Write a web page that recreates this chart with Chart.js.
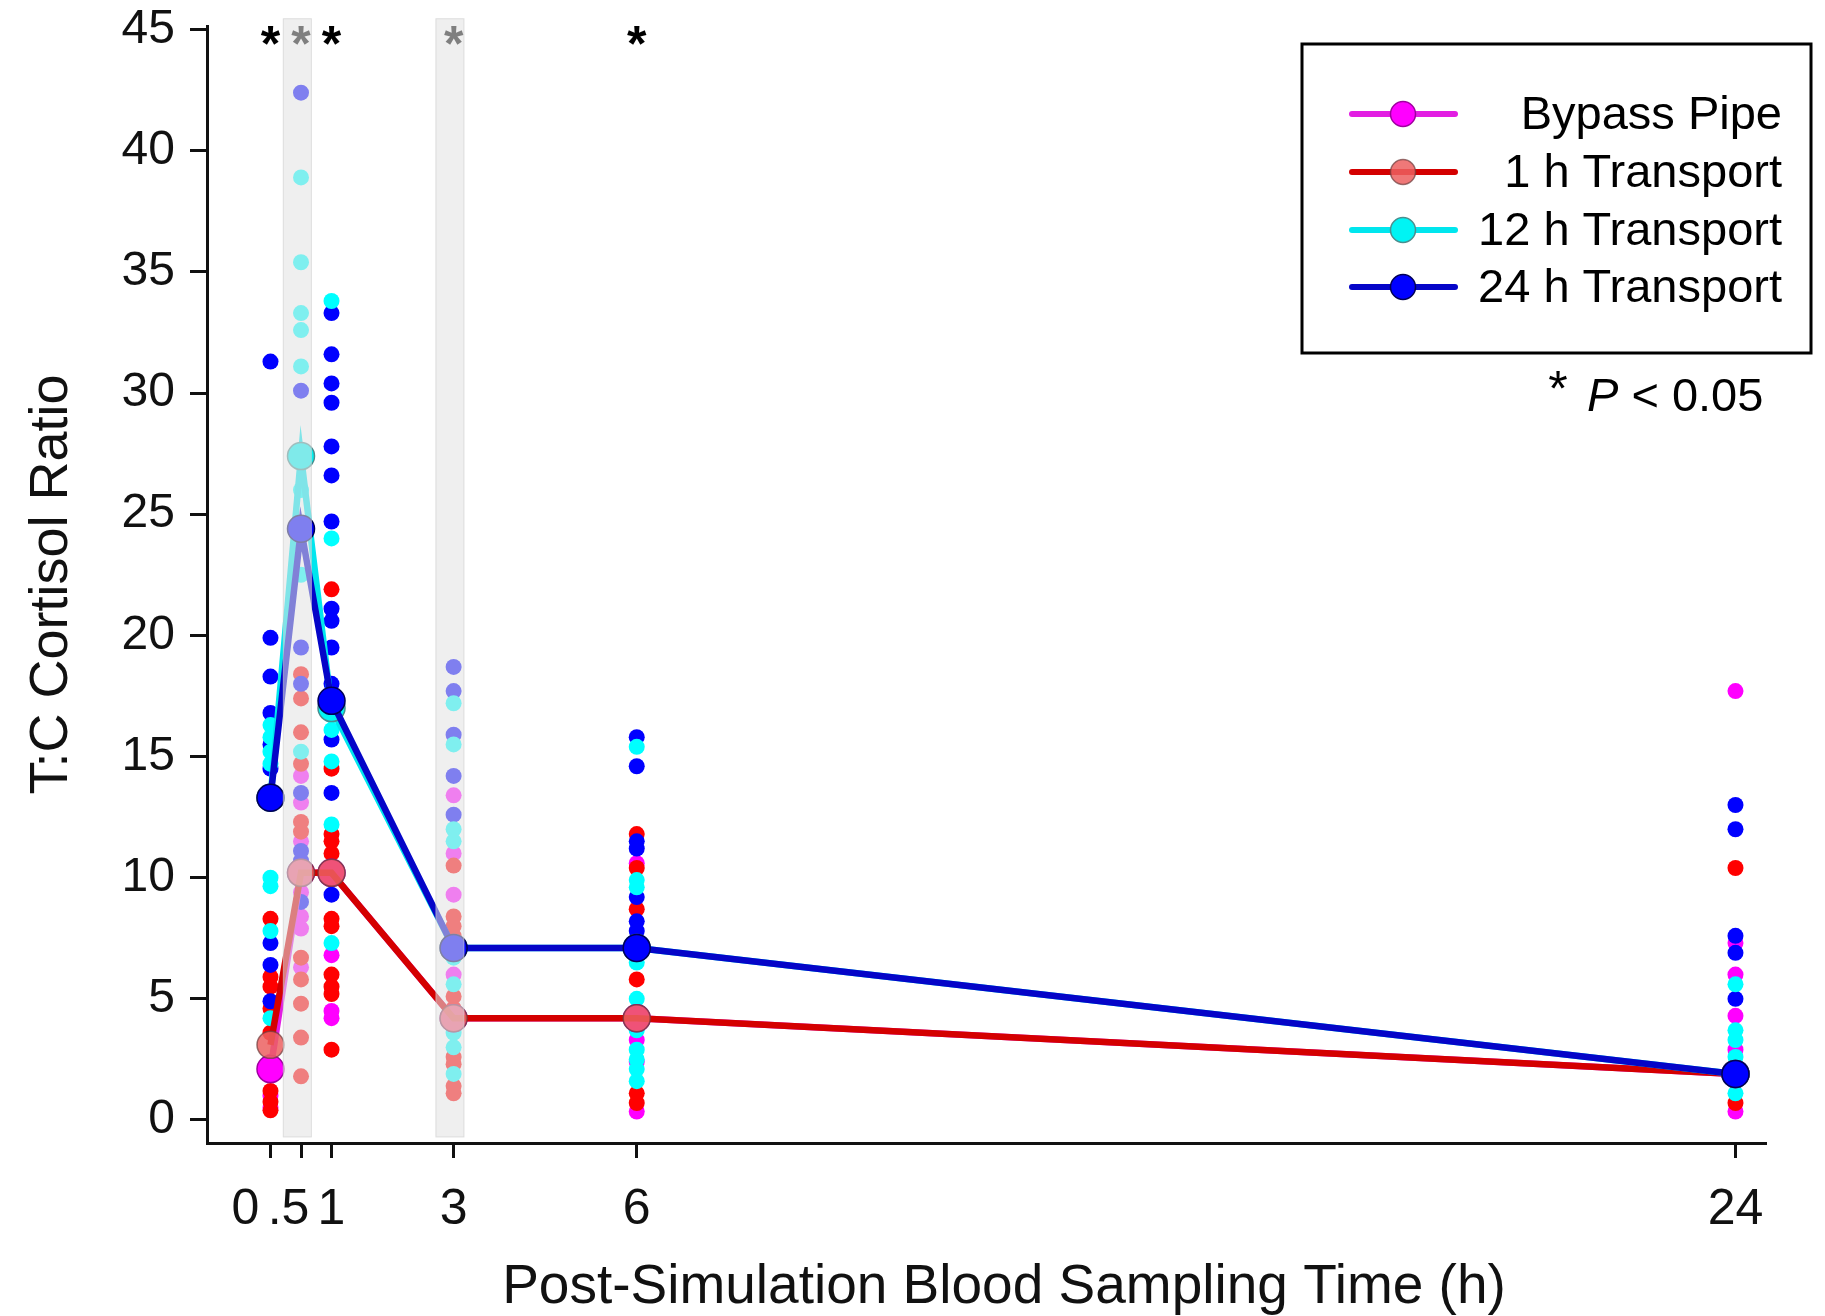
<!DOCTYPE html>
<html lang="en">
<head>
    <meta charset="UTF-8">
    <title>T:C Cortisol Ratio by Sampling Time</title>
    <script src="https://cdn.jsdelivr.net/npm/chart.js"></script>
    <style>
        body {
            margin: 0;
            background: #fff;
        }
        .chart-container {
            position: relative;
            width: 1825px;
            height: 1316px;
        }
    </style>
</head>
<body>

    <div class="chart-container">
        <canvas id="cortisolChart"></canvas>
    </div>

    <script>
        // Sampling times (h) and axis labels
        const times = [0, 0.5, 1, 3, 6, 24];
        const xTickLabels = ['0', '.5', '1', '3', '6', '24'];
        const yTicks = [0, 5, 10, 15, 20, 25, 30, 35, 40, 45];
        const sigTimes = [0, 0.5, 1, 3, 6];
        const bandTimes = [0.5, 3];

        const groupNames = ['Bypass Pipe', '1 h Transport', '12 h Transport', '24 h Transport'];

        // Individual fish values, one list per sampling time
        const bypassPts = [
            [0.5, 1.0, 2.4],
            [14.2, 13.1, 11.5, 9.4, 8.4, 7.9, 6.3],
            [6.8, 4.5, 4.2],
            [13.4, 11.0, 9.3, 6.0],
            [10.6, 3.3, 2.4, 0.35],
            [17.7, 7.3, 6.0, 4.3, 2.9, 0.35]
        ];
        const oneHourPts = [
            [8.3, 5.9, 5.5, 4.6, 3.6, 2.2, 1.2, 0.75, 0.4],
            [18.4, 17.4, 16.0, 14.7, 12.3, 11.9, 6.7, 5.8, 4.8, 3.4, 1.8],
            [21.9, 14.5, 11.8, 11.5, 11.0, 8.3, 8.0, 6.0, 5.5, 5.2, 2.9],
            [10.5, 8.4, 8.0, 7.6, 5.1, 4.6, 2.6, 2.3, 1.4, 1.1],
            [11.8, 10.4, 8.7, 5.8, 1.1, 0.7],
            [10.4, 0.7]
        ];
        const twelveHourPts = [
            [16.3, 15.8, 15.2, 14.7, 10.0, 9.65, 7.8, 4.2],
            [38.9, 35.4, 33.3, 32.6, 31.1, 26.0, 22.5, 15.2],
            [33.8, 24.0, 16.7, 16.1, 14.8, 12.2, 7.3],
            [17.2, 15.5, 12.0, 11.5, 6.7, 5.6, 3.6, 3.0, 1.9],
            [15.4, 9.9, 9.6, 6.5, 5.0, 4.5, 3.7, 2.9, 2.5, 2.1, 1.6],
            [5.6, 3.7, 3.3, 2.6, 1.1]
        ];
        const twentyFourHourPts = [
            [31.3, 19.9, 18.3, 16.8, 15.5, 14.5, 7.3, 6.4, 4.9],
            [42.4, 30.1, 19.5, 18.0, 13.5, 11.1, 10.7, 9.0],
            [33.3, 31.6, 30.4, 29.6, 27.8, 26.6, 24.7, 21.1, 20.6, 19.5, 18.0, 15.7, 13.5, 9.3],
            [18.7, 17.7, 15.9, 14.2, 12.6],
            [15.8, 14.6, 11.5, 11.2, 9.2, 8.2, 7.8],
            [13.0, 12.0, 7.6, 6.9, 5.0]
        ];

        // Group means at each sampling time
        const bypassMean = [2.1, 10.2, 10.2, 4.2, 4.2, 1.9];
        const oneHourMean = [3.1, 10.2, 10.2, 4.2, 4.2, 1.9];
        const twelveHourMean = [13.3, 27.4, 17.0, 7.1, 7.1, 1.9];
        const twentyFourHourMean = [13.3, 24.4, 17.3, 7.1, 7.1, 1.9];

        const FONT = '"Liberation Sans", Arial, Helvetica, sans-serif';

        const groups = [
            { pts: bypassPts, mean: bypassMean, point: '#ff00ff', line: '#e21ee2', marker: '#ff00ff', edge: '#a000a0' },
            { pts: oneHourPts, mean: oneHourMean, point: '#ff0000', line: '#d40000', marker: 'rgba(236,96,96,0.85)', edge: 'rgba(110,60,60,0.7)' },
            { pts: twelveHourPts, mean: twelveHourMean, point: '#00ffff', line: '#00e6ee', marker: '#00f4f4', edge: '#4a8f8f' },
            { pts: twentyFourHourPts, mean: twentyFourHourMean, point: '#0000ff', line: '#0505c8', marker: '#0000ff', edge: '#000055' }
        ];

        function toPoints(perTime) {
            const out = [];
            perTime.forEach((vals, i) => vals.forEach(v => out.push({ x: times[i], y: v })));
            return out;
        }

        // draw order: lower "order" ends up on top
        const scatterOrder = [8, 7, 5, 6];
        const lineOrder = [4, 3, 2, 1];

        const datasets = [];
        groups.forEach((g, i) => {
            datasets.push({
                label: groupNames[i] + ' (fish)',
                type: 'scatter',
                data: toPoints(g.pts),
                backgroundColor: g.point,
                borderWidth: 0,
                pointRadius: 8,
                order: scatterOrder[i]
            });
        });
        groups.forEach((g, i) => {
            datasets.push({
                label: groupNames[i],
                type: 'line',
                data: g.mean.map((v, k) => ({ x: times[k], y: v })),
                borderColor: g.line,
                borderWidth: 6.5,
                showLine: true,
                tension: 0,
                pointRadius: 13.5,
                pointBackgroundColor: g.marker,
                pointBorderColor: g.edge,
                pointBorderWidth: 1.5,
                order: lineOrder[i]
            });
        });

        // stars, shaded bands, x title, legend box and P note
        const decor = {
            id: 'decor',
            afterDatasetsDraw(chart) {
                const { ctx, scales: { x, y } } = chart;
                ctx.save();

                ctx.fillStyle = '#000';
                ctx.font = 'bold 50px ' + FONT;
                ctx.textAlign = 'center';
                ctx.textBaseline = 'alphabetic';
                sigTimes.forEach(t => ctx.fillText('*', x.getPixelForValue(t), 61));

                bandTimes.forEach(t => {
                    const l = x.getPixelForValue(t - 0.29);
                    const r = x.getPixelForValue(t + 0.17);
                    const top = y.getPixelForValue(45.45);
                    const bottom = y.getPixelForValue(-0.7);
                    ctx.fillStyle = 'rgba(226,226,226,0.56)';
                    ctx.fillRect(l, top, r - l, bottom - top);
                    ctx.strokeStyle = 'rgba(205,205,205,0.6)';
                    ctx.lineWidth = 1;
                    ctx.strokeRect(l, top, r - l, bottom - top);
                });

                // x axis title
                ctx.fillStyle = '#111';
                ctx.font = '55px ' + FONT;
                ctx.textAlign = 'center';
                ctx.textBaseline = 'middle';
                ctx.fillText('Post-Simulation Blood Sampling Time (h)', 1004, 1288);

                // legend
                ctx.strokeStyle = '#000';
                ctx.lineWidth = 3;
                ctx.strokeRect(1302, 44, 509, 309);
                const rowY = [114, 172, 230, 287];
                groups.forEach((g, i) => {
                    const ry = rowY[i];
                    ctx.strokeStyle = g.line;
                    ctx.lineWidth = 6;
                    ctx.lineCap = 'round';
                    ctx.beginPath();
                    ctx.moveTo(1352, ry);
                    ctx.lineTo(1455, ry);
                    ctx.stroke();
                    ctx.beginPath();
                    ctx.arc(1403, ry, 12.5, 0, Math.PI * 2);
                    ctx.fillStyle = g.marker;
                    ctx.fill();
                    ctx.lineWidth = 1.5;
                    ctx.strokeStyle = g.edge;
                    ctx.stroke();
                    ctx.fillStyle = '#000';
                    ctx.font = '47px ' + FONT;
                    ctx.textAlign = 'right';
                    ctx.textBaseline = 'middle';
                    ctx.fillText(groupNames[i], 1782, ry + 2);
                });

                // significance note
                ctx.textBaseline = 'alphabetic';
                ctx.textAlign = 'center';
                ctx.font = '50px ' + FONT;
                ctx.fillText('*', 1558, 406);
                ctx.textAlign = 'left';
                ctx.font = 'italic 47px ' + FONT;
                ctx.fillText('P', 1587, 411);
                const pw = ctx.measureText('P').width;
                ctx.font = '47px ' + FONT;
                ctx.fillText(' < 0.05', 1587 + pw, 411);

                ctx.restore();
            }
        };

        Chart.defaults.font.family = FONT;
        Chart.defaults.color = '#111';

        new Chart(document.getElementById('cortisolChart'), {
            type: 'scatter',
            data: { datasets: datasets },
            options: {
                responsive: true,
                maintainAspectRatio: false,
                animation: false,
                layout: { padding: { top: 26, right: 59, left: 0, bottom: 0 } },
                plugins: {
                    legend: { display: false },
                    tooltip: { enabled: false }
                },
                scales: {
                    x: {
                        type: 'linear',
                        min: -1.04,
                        max: 24.5,
                        afterBuildTicks: (scale) => { scale.ticks = times.map(v => ({ value: v })); },
                        afterFit: (scale) => {
                            scale.height = 173;
                            scale.paddingLeft = 0;
                            scale.paddingRight = 0;
                        },
                        ticks: {
                            autoSkip: false,
                            maxRotation: 0,
                            padding: 22,
                            color: '#111',
                            font: { size: 50 },
                            // the first two labels sit a little left of their ticks
                            callback: (value, index) => xTickLabels[index] + (index === 0 ? '\u2003' : index === 1 ? '\u2002' : '')
                        },
                        grid: { display: true, drawOnChartArea: false, drawTicks: true, tickLength: 15, tickWidth: 3, tickColor: '#111' },
                        border: { display: true, color: '#111', width: 3 }
                    },
                    y: {
                        min: -0.95,
                        max: 45.15,
                        afterBuildTicks: (scale) => { scale.ticks = yTicks.map(v => ({ value: v })); },
                        afterFit: (scale) => {
                            scale.width = 207;
                            scale.paddingTop = 0;
                            scale.paddingBottom = 0;
                        },
                        ticks: {
                            padding: 15,
                            color: '#111',
                            font: { size: 48 }
                        },
                        grid: { display: true, drawOnChartArea: false, drawTicks: true, tickLength: 17, tickWidth: 3, tickColor: '#111' },
                        border: { display: true, color: '#111', width: 3 },
                        title: {
                            display: true,
                            text: 'T:C Cortisol Ratio',
                            color: '#111',
                            font: { size: 54, lineHeight: 1 },
                            padding: { top: 25, bottom: 0 }
                        }
                    }
                }
            },
            plugins: [decor]
        });
    </script>

</body>
</html>
